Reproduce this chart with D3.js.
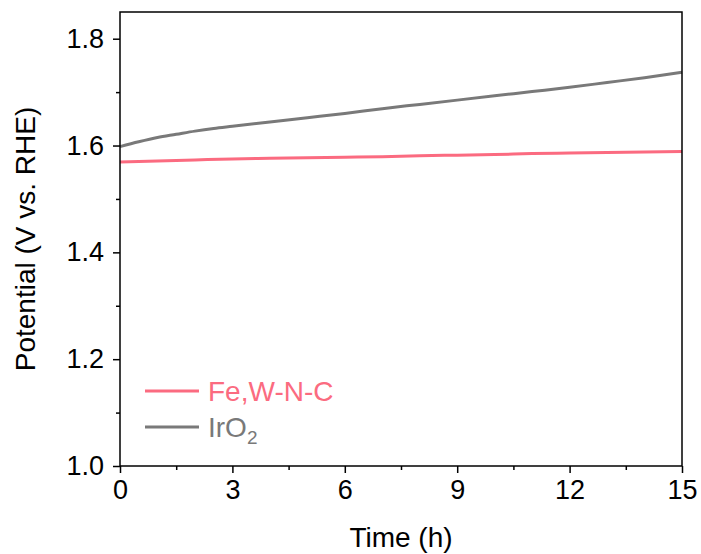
<!DOCTYPE html>
<html>
<head>
<meta charset="utf-8">
<script src="https://cdn.jsdelivr.net/npm/d3@7"></script>
<style>
  body { margin: 0; background: #fff; }
  svg text { font-family: "Liberation Sans", Arial, sans-serif; }
</style>
</head>
<body>
<svg id="chart" width="701" height="554"></svg>
<script>
// values
const irTime = [0, 0.5, 1, 1.5, 2, 2.5, 3, 4, 5, 6, 7, 8, 9, 10, 11, 12, 13, 14, 15];
const irPotential = [1.598, 1.607, 1.615, 1.621, 1.627, 1.632, 1.636, 1.644, 1.652, 1.660,
  1.669, 1.677, 1.685, 1.693, 1.701, 1.709, 1.718, 1.727, 1.737];
const feTime = [0, 1, 2, 3, 4, 5, 6, 7, 8, 9, 10, 11, 12, 13, 14, 15];
const fePotential = [1.569, 1.571, 1.573, 1.575, 1.576, 1.577, 1.578, 1.579, 1.581,
  1.582, 1.583, 1.585, 1.586, 1.587, 1.588, 1.589];
const xTicks = [0, 3, 6, 9, 12, 15];
const yTicks = [1.0, 1.2, 1.4, 1.6, 1.8];

const margin = { top: 12, right: 19, bottom: 88, left: 120 };
const width = 701 - margin.left - margin.right;
const height = 554 - margin.top - margin.bottom;
const red = "#fb6b80", gray = "#797979";

const svg = d3.select("#chart");
const g = svg.append("g").attr("transform", `translate(${margin.left},${margin.top})`);

const x = d3.scaleLinear().domain([0, 15]).range([0, width]);
const y = d3.scaleLinear().domain([1.0, 1.85]).range([height, 0]);

const line = d3.line().x(d => x(d[0])).y(d => y(d[1])).curve(d3.curveMonotoneX);

g.append("path")
  .datum(irTime.map((t, i) => [t, irPotential[i]]))
  .attr("d", line).attr("fill", "none").attr("stroke", gray).attr("stroke-width", 3);
g.append("path")
  .datum(feTime.map((t, i) => [t, fePotential[i]]))
  .attr("d", line).attr("fill", "none").attr("stroke", red).attr("stroke-width", 3);

// frame
g.append("rect").attr("width", width).attr("height", height)
  .attr("fill", "none").attr("stroke", "#000").attr("stroke-width", 1.5);

// minor ticks
const xAxisMinor = g.append("g").attr("transform", `translate(0,${height})`)
  .call(d3.axisBottom(x).tickValues(d3.range(1.5, 15, 3)).tickSize(4).tickFormat(""));
const yAxisMinor = g.append("g")
  .call(d3.axisLeft(y).tickValues([1.1, 1.3, 1.5, 1.7]).tickSize(4).tickFormat(""));

const xAxis = g.append("g").attr("transform", `translate(0,${height})`)
  .call(d3.axisBottom(x).tickValues(xTicks).tickSize(7).tickPadding(7).tickFormat(d3.format("d")));
const yAxis = g.append("g")
  .call(d3.axisLeft(y).tickValues(yTicks).tickSize(7).tickPadding(9).tickFormat(d3.format(".1f")));

[xAxisMinor, yAxisMinor, xAxis, yAxis].forEach(a => {
  a.select(".domain").remove();
  a.selectAll(".tick line").attr("stroke", "#000").attr("stroke-width", 1.5);
  a.selectAll("text").attr("font-size", 27).attr("fill", "#000")
    .style("font-family", "'Liberation Sans', Arial, sans-serif");
});

g.append("text")
  .attr("x", width / 2).attr("y", height + 81)
  .attr("text-anchor", "middle").attr("font-size", 28)
  .text("Time (h)");

g.append("text")
  .attr("transform", `translate(${35 - margin.left},${height / 2}) rotate(-90)`)
  .attr("text-anchor", "middle").attr("font-size", 28)
  .text("Potential (V vs. RHE)");

// legend
const legend = g.append("g").attr("transform", `translate(${145 - margin.left},${391 - margin.top})`);
const items = [
  { label: "Fe,W-N-C", color: red },
  { label: "IrO", sub: "2", color: gray }
];
items.forEach((it, i) => {
  const row = legend.append("g").attr("transform", `translate(0,${i * 36})`);
  row.append("line").attr("x1", 0).attr("x2", 54).attr("y1", 0).attr("y2", 0)
    .attr("stroke", it.color).attr("stroke-width", 3);
  const t = row.append("text").attr("x", 63).attr("y", 10)
    .attr("font-size", 28).attr("fill", it.color).text(it.label);
  if (it.sub) {
    t.append("tspan").attr("dy", 7).attr("font-size", 19).text(it.sub);
  }
});
</script>
</body>
</html>
